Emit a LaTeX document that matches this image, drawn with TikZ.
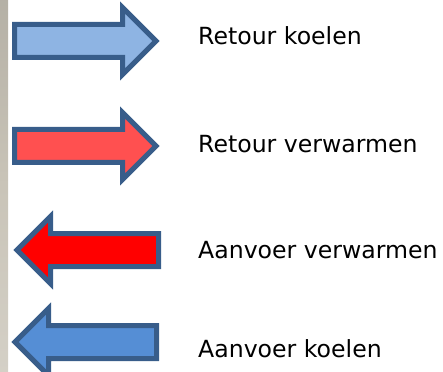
\documentclass[tikz,border=0pt]{standalone}
\usepackage{fontspec}
\setmainfont{DejaVu Sans}
\usetikzlibrary{shapes.arrows}

\definecolor{rimblue}{HTML}{385D8A}
\definecolor{paleblue}{HTML}{8EB4E3}
\definecolor{midblue}{HTML}{558ED5}
\definecolor{palered}{HTML}{FF5050}
\definecolor{fullred}{HTML}{FF0000}
\definecolor{stripgray}{HTML}{C9C4B8}

\begin{document}
\begin{tikzpicture}[
    x=1pt, y=-1pt,
    every node/.style={font=\fontsize{23.6}{28}\selectfont},
    flow/.style={single arrow, draw=rimblue, line width=5pt, line join=miter,
      single arrow head extend=17pt, inner xsep=0pt, inner ysep=14pt,
      minimum height=141.5pt, minimum width=62pt, outer sep=0pt, anchor=tail},
    back/.style={flow, shape border rotate=180},
    legend/.style={anchor=base west, inner sep=0pt}
  ]
    \useasboundingbox (0,0) rectangle (443,371);

    %------------------ Left edge strip ------------------%
    \shade[top color=stripgray!90!black, bottom color=stripgray!80!white,
      middle color=stripgray] (0,0) rectangle (8,371);

    %------------------ Return lines ------------------%
    \node[flow, fill=paleblue] (rk) at (14.5,41) {};
    \node[legend] (rklab) at (198,45) {Retour koelen};

    \node[flow, fill=palered] (rv) at (14.5,146) {};
    \node[legend] (rvlab) at (198,153) {Retour verwarmen};

    %------------------ Supply lines ------------------%
    \node[back, fill=fullred] (av) at (158.5,250) {};
    \node[legend] (avlab) at (198,258) {Aanvoer verwarmen};

    \node[back, fill=midblue] (ak) at (156.5,342) {};
    \node[legend] (aklab) at (198,357) {Aanvoer koelen};

\end{tikzpicture}
\end{document}
